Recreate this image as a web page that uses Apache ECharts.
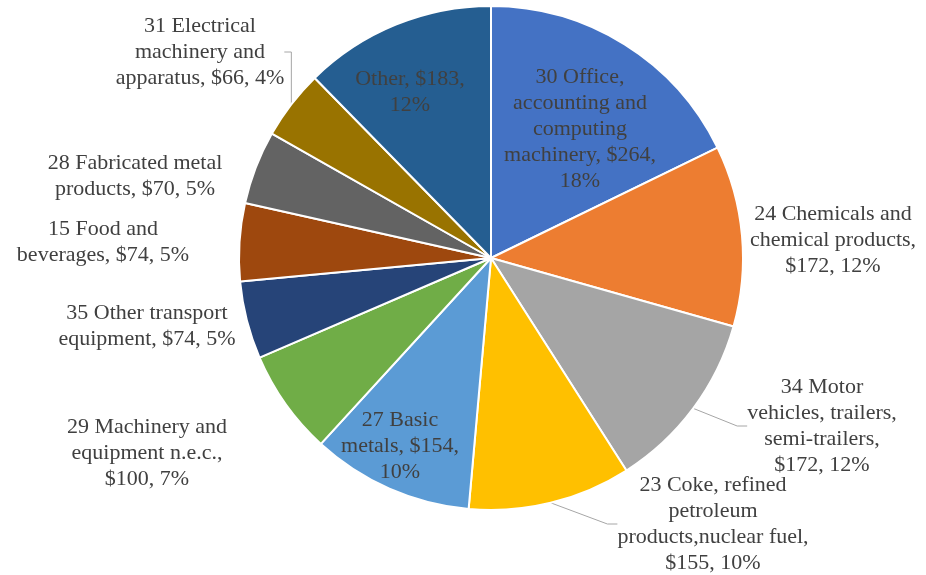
<!DOCTYPE html>
<html>
<head>
<meta charset="utf-8">
<script src="https://cdn.jsdelivr.net/npm/echarts@6/dist/echarts.min.js"></script>
<style>
html,body{margin:0;padding:0;background:#fff;}
#chart{width:926px;height:575px;}
</style>
</head>
<body>
<div id="chart"></div>
<script>
// Data (clockwise from 12 o'clock)
const categories = [
  "30 Office, accounting and computing machinery",
  "24 Chemicals and chemical products",
  "34 Motor vehicles, trailers, semi-trailers",
  "23 Coke, refined petroleum products,nuclear fuel",
  "27 Basic metals",
  "29 Machinery and equipment n.e.c.",
  "35 Other transport equipment",
  "15 Food and beverages",
  "28 Fabricated metal products",
  "31 Electrical machinery and apparatus",
  "Other"
];
const values = [264, 172, 172, 155, 154, 100, 74, 74, 70, 66, 183];
// Wrapped label text ({v} = value, {p} = percent)
const labelTemplates = [
  "30 Office,\naccounting and\ncomputing\nmachinery, {v},\n{p}",
  "24 Chemicals and\nchemical products,\n{v}, {p}",
  "34 Motor\nvehicles, trailers,\nsemi-trailers,\n{v}, {p}",
  "23 Coke, refined\npetroleum\nproducts,nuclear fuel,\n{v}, {p}",
  "27 Basic\nmetals, {v},\n{p}",
  "29 Machinery and\nequipment n.e.c.,\n{v}, {p}",
  "35 Other transport\nequipment, {v}, {p}",
  "15 Food and\nbeverages, {v}, {p}",
  "28 Fabricated metal\nproducts, {v}, {p}",
  "31 Electrical\nmachinery and\napparatus, {v}, {p}",
  "Other, {v},\n{p}"
];
const colors = ["#4472C4","#ED7D31","#A5A5A5","#FFC000","#5B9BD5","#70AD47",
                "#264478","#9E480E","#636363","#997300","#255E91"];
const showLeader = [false,false,true,true,false,false,false,false,false,true,false];

// label centres (layout, px)
const labelPos = [
  [580,129],[833,240],[822,426],[713,524],[400,446],[147,453],
  [147,326],[103,242],[135,176],[200,52],[410,92]
];

const chart = echarts.init(document.getElementById('chart'));
chart.setOption({
  animation:false,
  color: colors,
  series:[{
    type:'pie',
    center:[491,258],
    radius:[0,252],
    startAngle:90,
    clockwise:true,
    percentPrecision:0,
    avoidLabelOverlap:false,
    itemStyle:{borderColor:'#fff',borderWidth:2},
    label:{
      show:true,
      position:'outside',
      fontFamily:'Liberation Serif',
      fontSize:22,
      lineHeight:26,
      color:'#404040',
      align:'center',
      formatter:function(p){
        return labelTemplates[p.dataIndex]
          .replace('{v}','$'+p.value)
          .replace('{p}',p.percent+'%');
      }
    },
    labelLine:{show:true,length:10,length2:10,lineStyle:{color:'#A6A6A6',width:1}},
    labelLayout:function(params){
      const i=params.dataIndex;
      return {x:labelPos[i][0],y:labelPos[i][1],align:'center',verticalAlign:'middle',hideOverlap:false};
    },
    data: categories.map((n,i)=>({
      name:n, value:values[i],
      labelLine:{show:showLeader[i]}
    }))
  }]
});
</script>
</body>
</html>
